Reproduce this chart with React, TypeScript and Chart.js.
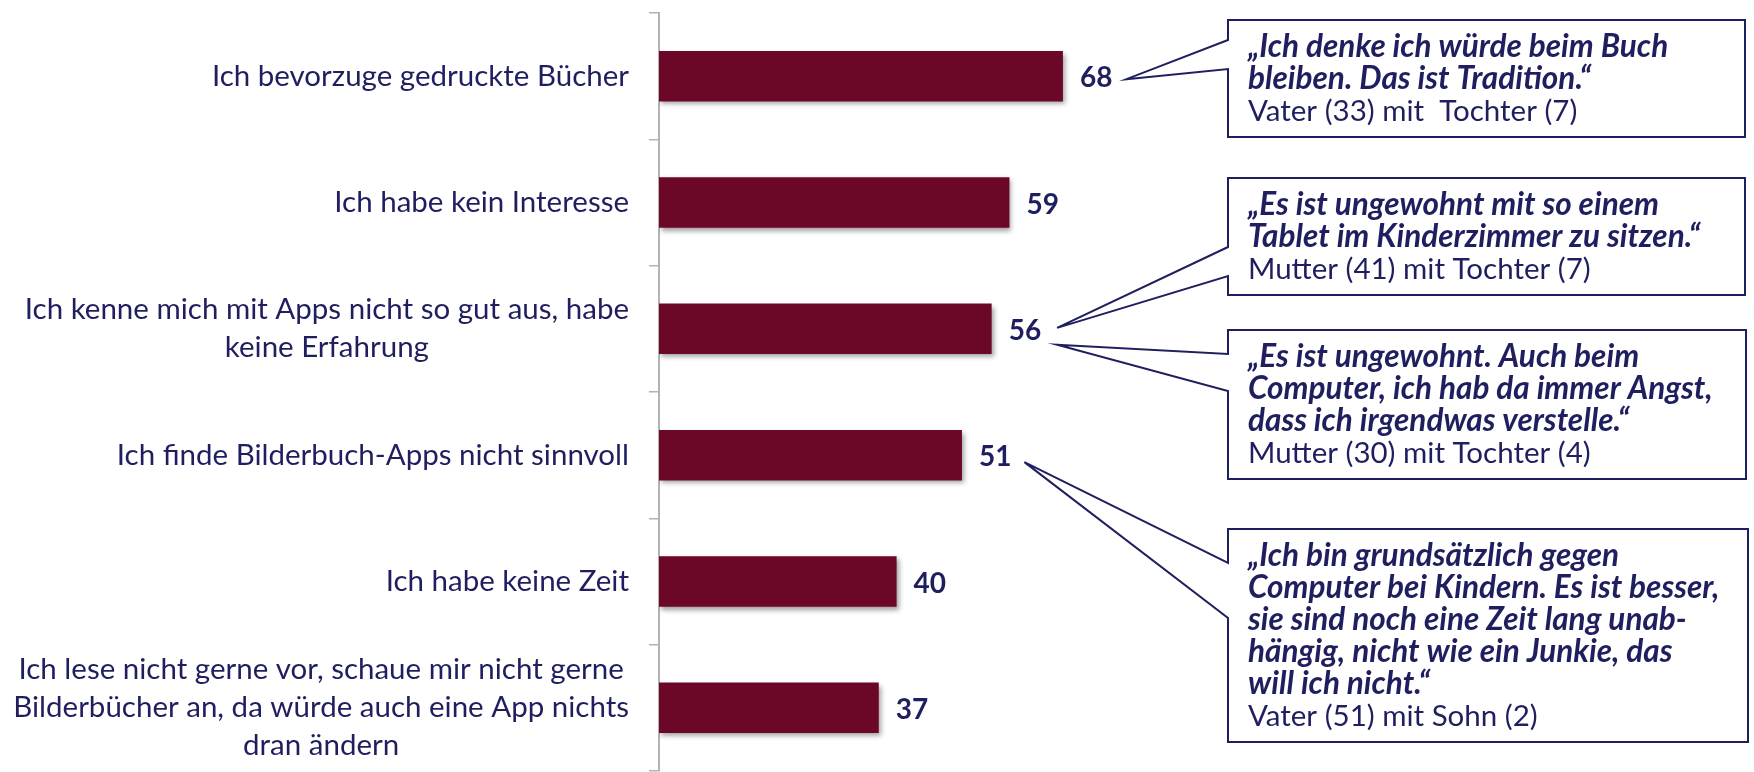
import React, { useEffect, useRef } from "react";
import { Chart, registerables } from "chart.js";

Chart.register(...registerables);

// ---------- data ----------
const categories: string[][] = [
  ["Ich bevorzuge gedruckte Bücher"],
  ["Ich habe kein Interesse"],
  ["Ich kenne mich mit Apps nicht so gut aus, habe", "keine Erfahrung"],
  ["Ich finde Bilderbuch-Apps nicht sinnvoll"],
  ["Ich habe keine Zeit"],
  [
    "Ich lese nicht gerne vor, schaue mir nicht gerne",
    "Bilderbücher an, da würde auch eine App nichts",
    "dran ändern",
  ],
];
const values: number[] = [68, 59, 56, 51, 40, 37];

const quoteLines: string[][] = [
  ["„Ich denke ich würde beim Buch", "bleiben. Das ist Tradition.“"],
  ["„Es ist ungewohnt mit so einem", "Tablet im Kinderzimmer zu sitzen.“"],
  ["„Es ist ungewohnt. Auch beim", "Computer, ich hab da immer Angst,", "dass ich irgendwas verstelle.“"],
  [
    "„Ich bin grundsätzlich gegen",
    "Computer bei Kindern. Es ist besser,",
    "sie sind noch eine Zeit lang unab-",
    "hängig, nicht wie ein Junkie, das",
    "will ich nicht.“",
  ],
];
const attributions: string[] = [
  "Vater (33) mit  Tochter (7)",
  "Mutter (41) mit Tochter (7)",
  "Mutter (30) mit Tochter (4)",
  "Vater (51) mit Sohn (2)",
];
const quoteBar: number[] = [0, 2, 2, 3];

// ---------- styling / layout ----------
const NAVY = "#1F1F60";
const BAR = "#6B0727";
const AXIS = "#B3B3B3";
const FONT = "Lato";

// box: left, top, right, bottom, attachTop, attachBottom, tipDx, tipDy
const boxLayout = [
  { l: 1228, t: 20, r: 1745, b: 137, a1: 40, a2: 69, dx: 14, dy: 3 },
  { l: 1228, t: 178, r: 1745, b: 295, a1: 247, a2: 276, dx: 16, dy: -1 },
  { l: 1228, t: 330, r: 1746, b: 479, a1: 354, a2: 391, dx: 16, dy: 16 },
  { l: 1228, t: 529, r: 1748, b: 742, a1: 563, a2: 618, dx: 13, dy: 7 },
];

const LABEL_RIGHT = 629;
const LABEL_LINE = 38;
const VALUE_GAP = 17;

const overlayPlugin = {
  id: "overlay",
  beforeDatasetsDraw(chart: any) {
    const ctx = chart.ctx;
    ctx.save();
    ctx.shadowColor = "rgba(0,0,0,0.38)";
    ctx.shadowBlur = 5;
    ctx.shadowOffsetX = 2;
    ctx.shadowOffsetY = 3;
  },
  afterDatasetsDraw(chart: any) {
    const ctx = chart.ctx;
    ctx.restore();
    const xs = chart.scales.x;
    const ys = chart.scales.y;

    // category labels
    ctx.save();
    ctx.fillStyle = NAVY;
    ctx.font = `29.5px ${FONT}`;
    ctx.textBaseline = "middle";
    categories.forEach((lines, i) => {
      const yc = ys.getPixelForValue(i);
      const n = lines.length;
      const y0 = yc - ((n - 1) * LABEL_LINE) / 2;
      if (n === 1) {
        ctx.textAlign = "right";
        ctx.fillText(lines[0], LABEL_RIGHT, yc);
      } else {
        const maxW = Math.max(...lines.map((s) => ctx.measureText(s).width));
        ctx.textAlign = "center";
        lines.forEach((s, k) => ctx.fillText(s, LABEL_RIGHT - maxW / 2, y0 + k * LABEL_LINE));
      }
    });
    ctx.restore();

    // value labels
    ctx.save();
    ctx.fillStyle = NAVY;
    ctx.font = `bold 28px ${FONT}`;
    ctx.textBaseline = "middle";
    ctx.textAlign = "left";
    const labelEnds: number[] = [];
    values.forEach((v, i) => {
      const x = xs.getPixelForValue(v) + VALUE_GAP;
      const y = ys.getPixelForValue(i) + 2;
      const s = String(v);
      ctx.fillText(s, x, y);
      labelEnds.push(x + ctx.measureText(s).width);
    });
    ctx.restore();

    // callouts
    boxLayout.forEach((b, k) => {
      const bi = quoteBar[k];
      const tipX = labelEnds[bi] + b.dx;
      const tipY = ys.getPixelForValue(bi) + b.dy;
      ctx.save();
      ctx.beginPath();
      ctx.moveTo(b.l, b.t);
      ctx.lineTo(b.r, b.t);
      ctx.lineTo(b.r, b.b);
      ctx.lineTo(b.l, b.b);
      ctx.lineTo(b.l, b.a2);
      ctx.lineTo(tipX, tipY);
      ctx.lineTo(b.l, b.a1);
      ctx.closePath();
      ctx.fillStyle = "#ffffff";
      ctx.fill();
      ctx.strokeStyle = NAVY;
      ctx.lineWidth = 2;
      ctx.lineJoin = "miter";
      ctx.stroke();

      ctx.fillStyle = NAVY;
      ctx.textBaseline = "middle";
      ctx.textAlign = "left";
      const lines = quoteLines[k];
      let y = b.t + 27;
      ctx.font = `italic bold 31.5px ${FONT}`;
      lines.forEach((s) => {
        ctx.fillText(s, b.l + 20, y);
        y += 32;
      });
      ctx.font = `29.5px ${FONT}`;
      ctx.fillText(attributions[k], b.l + 20, y);
      ctx.restore();
    });
  },
};

export default function App() {
  const ref = useRef<HTMLCanvasElement | null>(null);
  useEffect(() => {
    if (!ref.current) return;
    const chart = new Chart(ref.current, {
      type: "bar",
      data: {
        labels: categories.map((c) => c.join(" ")),
        datasets: [
          {
            data: values,
            backgroundColor: BAR,
            borderWidth: 0,
            barPercentage: 0.4,
            categoryPercentage: 1,
          },
        ],
      },
      options: {
        indexAxis: "y",
        animation: false,
        responsive: false,
        devicePixelRatio: 1,
        layout: { padding: { top: 13, bottom: 1, left: 0, right: 501 } },
        plugins: {
          legend: { display: false },
          tooltip: { enabled: false },
          title: { display: false },
        },
        scales: {
          x: { display: false, min: 0, max: 100 },
          y: {
            display: true,
            ticks: { display: false },
            grid: {
              offset: true,
              drawOnChartArea: false,
              drawTicks: true,
              tickLength: 10,
              color: AXIS,
              lineWidth: 1.5,
            },
            border: { display: true, color: AXIS, width: 2 },
            afterFit: (scale: any) => {
              scale.width = 659;
            },
          },
        },
      },
      plugins: [overlayPlugin],
    });
    return () => chart.destroy();
  }, []);
  return (
    <div style={{ position: "absolute", left: 0, top: 0, width: 1754, height: 772, background: "#fff" }}>
      <canvas ref={ref} width={1754} height={772} style={{ display: "block" }} />
    </div>
  );
}
